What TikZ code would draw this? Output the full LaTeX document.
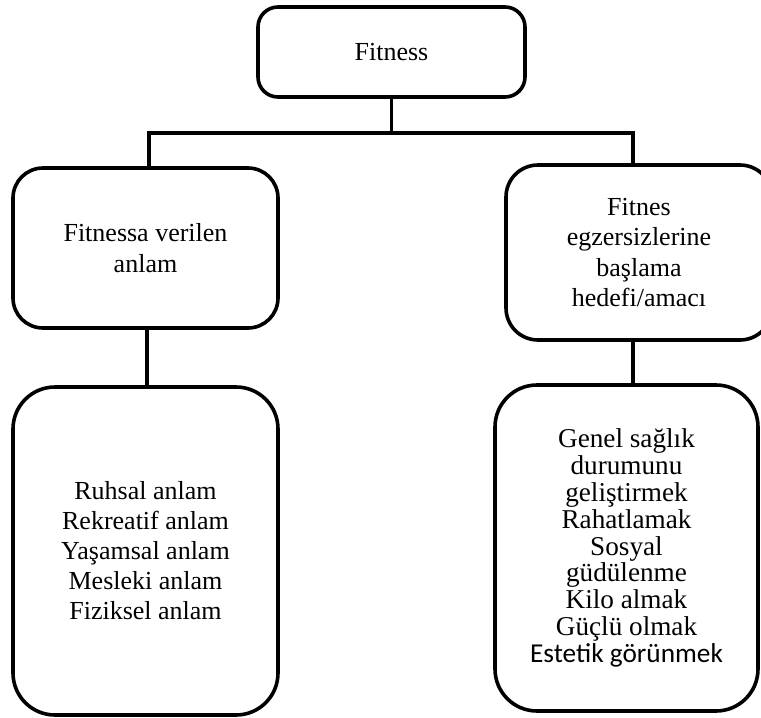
\documentclass[tikz,border=0pt]{standalone}
\usepackage{fontspec}
\setmainfont{Liberation Serif}
\newfontfamily\calibrilike{Carlito}
\begin{document}
\begin{tikzpicture}[x=1pt,y=-1pt,
  box/.style={draw=black,line width=3.6pt,fill=white,align=center,inner sep=0pt,
    font=\fontsize{26}{31}\selectfont},
  link/.style={draw=black,line width=3.6pt}]
\useasboundingbox (0,0) rectangle (761,718);

% top of the tree
\node[box,rounded corners=20pt,minimum width=267pt,minimum height=90pt]
  (fit) at (391.5,52) {Fitness};

% second level
\node[box,rounded corners=30pt,minimum width=265pt,minimum height=160pt]
  (meaning) at (145.5,248) {Fitnessa verilen\\anlam};
\node[box,rounded corners=32pt,minimum width=266pt,minimum height=175pt,
  font=\fontsize{26}{30.5}\selectfont]
  (goal) at (639,252.5) {Fitnes\\egzersizlerine\\başlama\\hedefi/amacı};

% third level
\node[box,rounded corners=42pt,minimum width=265pt,minimum height=328pt,
  font=\fontsize{26}{30}\selectfont]
  (meanings) at (145.5,551) {Ruhsal anlam\\Rekreatif anlam\\Yaşamsal anlam\\Mesleki anlam\\Fiziksel anlam};
\node[box,rounded corners=42pt,minimum width=263pt,minimum height=326pt,
  font=\fontsize{27.2}{26.9}\selectfont]
  (goals) at (626.5,548) {Genel sağlık\\durumunu\\geliştirmek\\Rahatlamak\\Sosyal\\güdülenme\\Kilo almak\\Güçlü olmak\\{\calibrilike\fontsize{27.3}{26.9}\selectfont Estetik görünmek}};

% branch connectors
\coordinate (split) at (fit.south |- 0,133);
\coordinate (splitL) at (149,133);
\coordinate (splitR) at (633,133);
\draw[link] (fit.south) -- (split);
\draw[link,line cap=rect] (splitL) -- (splitR);
\draw[link] (splitL) -- (splitL |- meaning.north);
\draw[link] (splitR) -- (splitR |- goal.north);

% lower connectors
\draw[link] (147,328) coordinate (downL) -- (downL |- meanings.north);
\draw[link] (633,340) coordinate (downR) -- (downR |- goals.north);
\end{tikzpicture}
\end{document}
